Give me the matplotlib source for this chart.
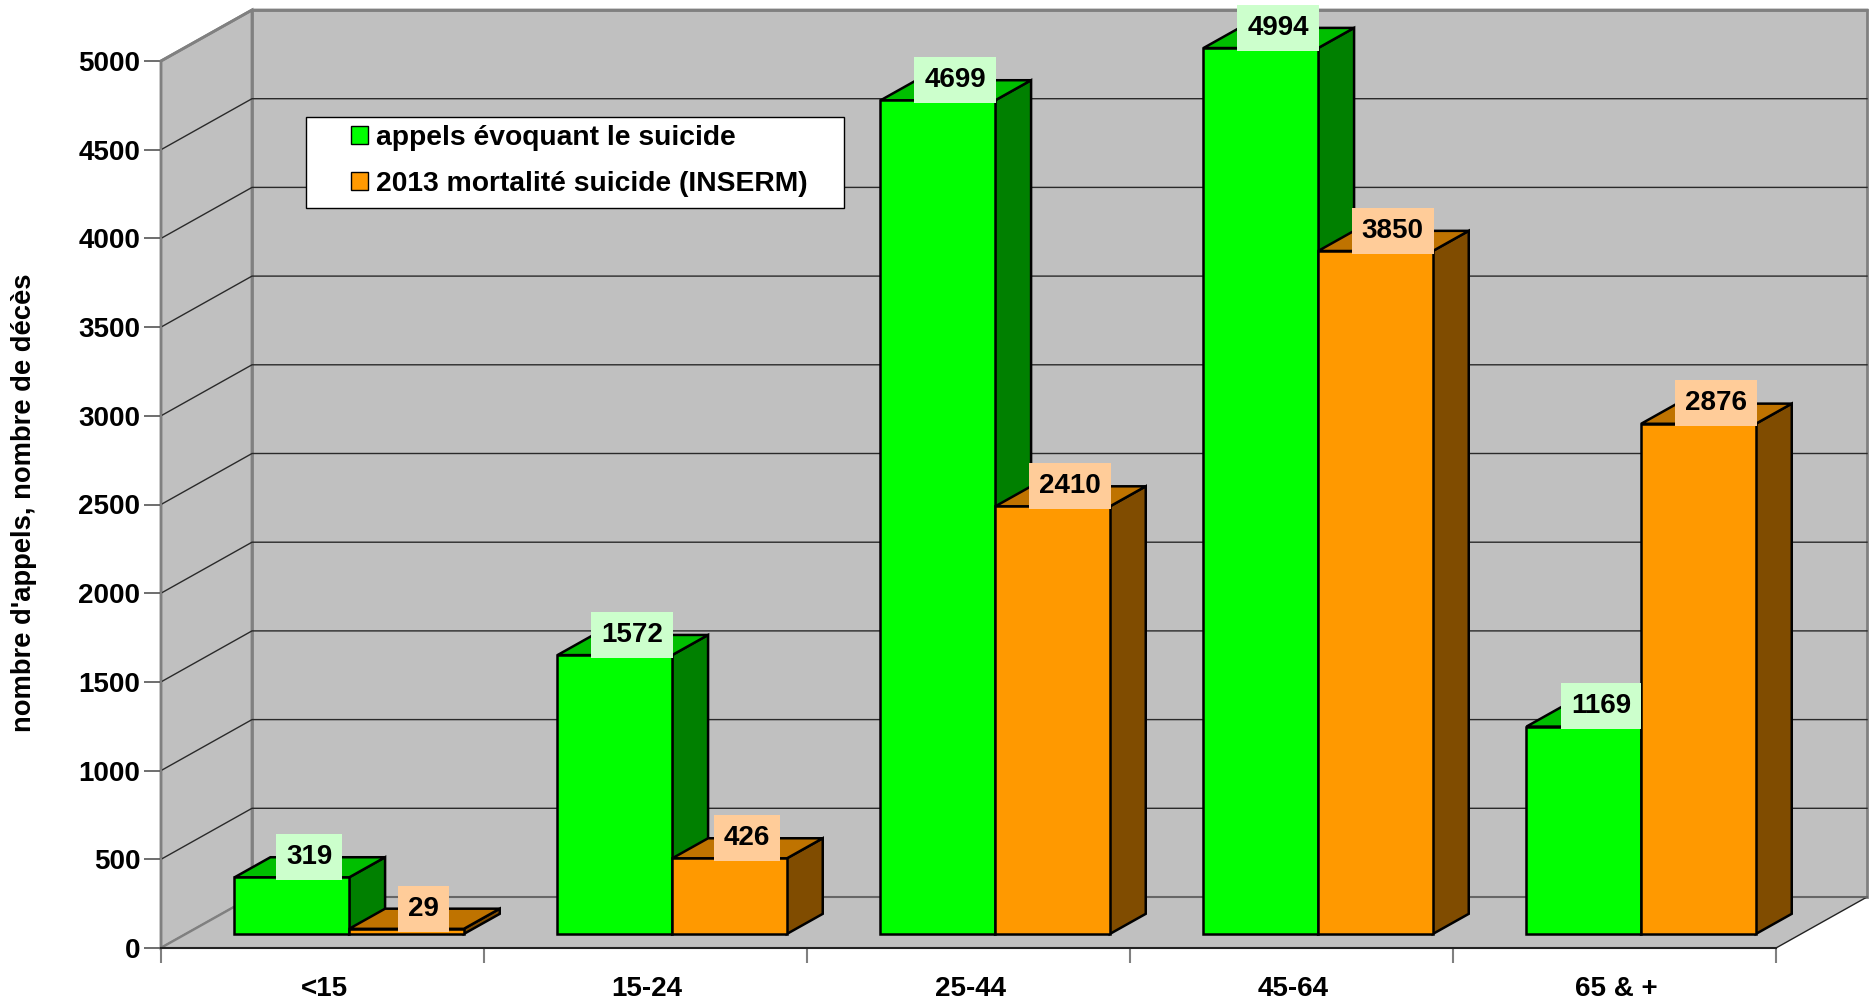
import matplotlib
matplotlib.use("Agg")
import matplotlib.pyplot as plt
from matplotlib.patches import Polygon, Patch, Rectangle

categories = ["<15", "15-24", "25-44", "45-64", "65 & +"]
appels = [319, 1572, 4699, 4994, 1169]
mortalite = [29, 426, 2410, 3850, 2876]
series_names = ["appels évoquant le suicide", "2013 mortalité suicide (INSERM)"]
yticks = [0, 500, 1000, 1500, 2000, 2500, 3000, 3500, 4000, 4500, 5000]
ylabel = "nombre d'appels, nombre de décès"

W, H = 1869, 1000
plt.rcParams["font.family"] = ["Liberation Sans", "DejaVu Sans"]
plt.rcParams["font.weight"] = "bold"
fig = plt.figure(figsize=(W / 100, H / 100), dpi=100, facecolor="white")
L, R, B, T = 161, 1776, 948, 61
ax = fig.add_axes([L / W, 1 - B / H, (R - L) / W, (B - T) / H])
ax.set_xlim(0, 5)
ax.set_ylim(0, 5000)
ax.patch.set_visible(False)

# oblique projection: depth 1 = back wall
DX = 91 / ((R - L) / 5)
DY = 51 / ((B - T) / 5000)
D0, D1 = 0.275, 0.67
BAR_W = 0.355
OFFSET = 0.15


def pr(x, y, d=0.0):
    return (x + d * DX, y + d * DY)


def poly(pts, fc, ec, lw, z):
    ax.add_patch(Polygon(pts, closed=True, facecolor=fc, edgecolor=ec, linewidth=lw,
                         zorder=z, clip_on=False, joinstyle="miter"))


WALL = "#C0C0C0"
GREY = "#808080"
GRID = "#2a2a2a"
poly([pr(0, 0), pr(0, 0, 1), pr(0, 5000, 1), pr(0, 5000)], WALL, GREY, 2, 1)
poly([pr(0, 0, 1), pr(5, 0, 1), pr(5, 5000, 1), pr(0, 5000, 1)], WALL, GREY, 2, 1)
poly([pr(0, 0), pr(5, 0), pr(5, 0, 1), pr(0, 0, 1)], WALL, "none", 0, 1)
ax.plot(*zip(pr(0, 0), pr(0, 0, 1)), color=GREY, lw=1.5, zorder=2, clip_on=False)
ax.plot(*zip(pr(5, 0), pr(5, 0, 1)), color="#222222", lw=1, zorder=2, clip_on=False)
ax.plot(*zip(pr(0, 0, 1), pr(5, 0, 1)), color="#666666", lw=1.5, zorder=2, clip_on=False)
for v in yticks[1:-1]:
    ax.plot(*zip(pr(0, v), pr(0, v, 1), pr(5, v, 1)), color=GRID, lw=1, zorder=2, clip_on=False)
top = yticks[-1]
ax.plot(*zip(pr(0, top), pr(0, top, 1), pr(5, top, 1)), color=GREY, lw=2, zorder=2, clip_on=False)


def bar(x, v, front, topc, side, z):
    x2 = x + BAR_W
    poly([pr(x2, 0, D0), pr(x2, 0, D1), pr(x2, v, D1), pr(x2, v, D0)], side, "black", 1.8, z)
    poly([pr(x, v, D0), pr(x2, v, D0), pr(x2, v, D1), pr(x, v, D1)], topc, "black", 1.8, z)
    poly([pr(x, 0, D0), pr(x2, 0, D0), pr(x2, v, D0), pr(x, v, D0)], front, "black", 1.8, z)


LABEL = dict(fontsize=20, fontweight="bold", color="black", ha="center", va="center",
             textcoords="offset points", xytext=(12.4, 14.6), annotation_clip=False, zorder=20)

for i in range(len(categories)):
    x1 = i + OFFSET
    x2 = x1 + BAR_W
    bar(x1, appels[i], "#00FF00", "#00BF00", "#008000", 5 + i)
    bar(x2, mortalite[i], "#FF9900", "#BF7300", "#804C00", 5 + i + 0.5)
    ax.annotate(str(appels[i]), pr(x1 + BAR_W / 2, appels[i], D0),
                bbox=dict(boxstyle="square,pad=0.36", fc="#CCFFCC", ec="none"), **LABEL)
    ax.annotate(str(mortalite[i]), pr(x2 + BAR_W / 2, mortalite[i], D0),
                bbox=dict(boxstyle="square,pad=0.36", fc="#FFCC99", ec="none"), **LABEL)

for s in ("top", "right"):
    ax.spines[s].set_visible(False)
ax.spines["left"].set(color=GREY, linewidth=1.5, zorder=3)
ax.spines["bottom"].set(color="#222222", linewidth=1.5, zorder=3)
ax.set_yticks(yticks)
ax.set_yticklabels([str(v) for v in yticks], fontsize=20, fontweight="bold")
ax.tick_params(axis="y", length=12, width=1.2, color="#555555", pad=3)
ax.set_xticks(range(6))
ax.set_xticklabels([""] * 6)
ax.tick_params(axis="x", which="major", length=11, width=1.5, color=GREY)
ax.set_xticks([i + 0.505 for i in range(5)], minor=True)
ax.set_xticklabels(categories, minor=True, fontsize=20, fontweight="bold")
ax.tick_params(axis="x", which="minor", length=0, pad=20)

fig.text(20 * 1.192 / W, 1 - 422 * 1.192 / H, ylabel, rotation=90, fontsize=19.7,
         fontweight="bold", ha="center", va="center")

# legend: frame box plus handles and labels
fig.add_artist(Rectangle((306 / W, 1 - 208 / H), 538 / W, 91 / H, transform=fig.transFigure,
                         facecolor="white", edgecolor="black", linewidth=1, zorder=30))
handles = [Patch(facecolor="#00FF00", edgecolor="black", linewidth=1),
           Patch(facecolor="#FF9900", edgecolor="black", linewidth=1)]
leg = fig.legend(handles, series_names, loc="center left",
                 bbox_to_anchor=(351 / W, 1 - 161 / H), bbox_transform=fig.transFigure,
                 fontsize=20.3, handlelength=0.6, handleheight=0.6, handletextpad=0.3,
                 labelspacing=0.72, borderpad=0, borderaxespad=0, frameon=False)
leg.set_zorder(31)

fig.savefig("out.png", dpi=100, facecolor="white")
